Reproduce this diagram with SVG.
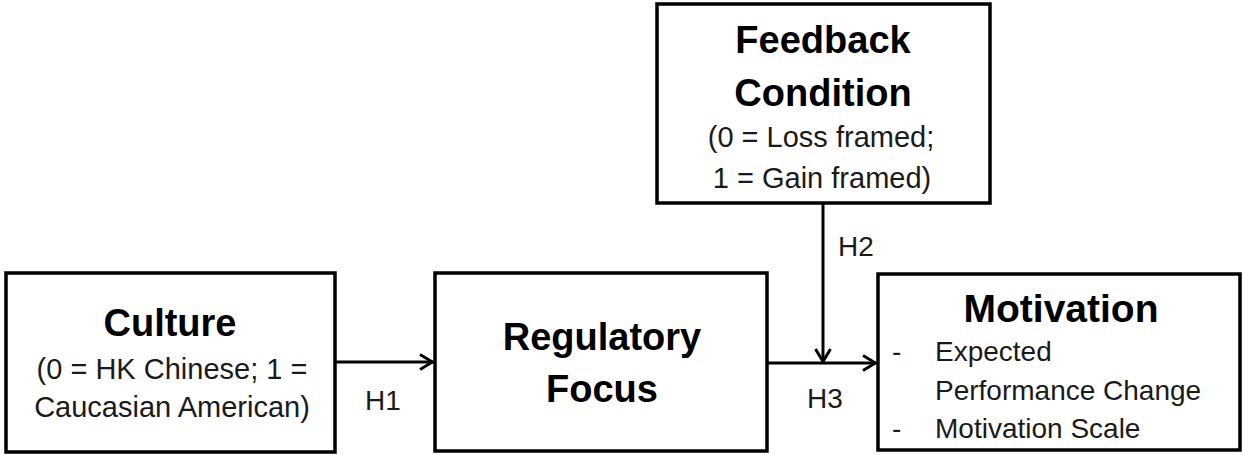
<svg xmlns="http://www.w3.org/2000/svg" width="1243" height="455" viewBox="0 0 1243 455">
  <style>
    .box { fill: #ffffff; stroke: #000000; stroke-width: 3.5; }
    .edge { fill: none; stroke: #000000; stroke-width: 3; }
    .title { font-family: "Liberation Sans", Arial, sans-serif; font-weight: bold; font-size: 38px; fill: #000000; text-anchor: middle; }
    .sub { font-family: "Liberation Sans", Arial, sans-serif; font-size: 29px; fill: #1a1a1a; text-anchor: middle; }
    .item { font-family: "Liberation Sans", Arial, sans-serif; font-size: 28px; fill: #1a1a1a; }
    .lbl { font-family: "Liberation Sans", Arial, sans-serif; font-size: 28px; fill: #1a1a1a; }
  </style>
  <defs>
    <marker id="arrow" viewBox="0 0 15 18" refX="14" refY="9" markerWidth="15" markerHeight="18" markerUnits="userSpaceOnUse" orient="auto">
      <path d="M1,1.5 L13.5,9 L1,16.5" fill="none" stroke="#000000" stroke-width="3"/>
    </marker>
  </defs>
  <rect width="1243" height="455" fill="#ffffff"/>

  <g id="connectors">
    <line class="edge" x1="336" y1="362" x2="433" y2="362" marker-end="url(#arrow)"/>
    <line class="edge" x1="768" y1="363" x2="876" y2="363" marker-end="url(#arrow)"/>
    <line class="edge" x1="823" y1="204" x2="823" y2="362" marker-end="url(#arrow)"/>
    <text class="lbl" x="365" y="410">H1</text>
    <text class="lbl" x="838" y="256">H2</text>
    <text class="lbl" x="807" y="408">H3</text>
  </g>

  <g id="culture">
    <rect class="box" x="6" y="273" width="329" height="179"/>
    <text class="title" x="170" y="336">Culture</text>
    <text class="sub" x="172" y="379">(0 = HK Chinese; 1 =</text>
    <text class="sub" x="172" y="417">Caucasian American)</text>
  </g>

  <g id="regulatory-focus">
    <rect class="box" x="435" y="273" width="332" height="178"/>
    <text class="title" x="602" y="350">Regulatory</text>
    <text class="title" x="602" y="402">Focus</text>
  </g>

  <g id="feedback-condition">
    <rect class="box" x="657" y="4" width="333" height="199"/>
    <text class="title" x="823" y="53">Feedback</text>
    <text class="title" x="823" y="106">Condition</text>
    <text class="sub" x="821" y="147">(0 = Loss framed;</text>
    <text class="sub" x="822" y="188">1 = Gain framed)</text>
  </g>

  <g id="motivation">
    <rect class="box" x="878" y="274" width="362" height="176"/>
    <text class="title" x="1061" y="322" style="font-size:39px">Motivation</text>
    <text class="item" x="892" y="361">-</text>
    <text class="item" x="935" y="361">Expected</text>
    <text class="item" x="935" y="400">Performance Change</text>
    <text class="item" x="892" y="438">-</text>
    <text class="item" x="935" y="438">Motivation Scale</text>
  </g>
</svg>
